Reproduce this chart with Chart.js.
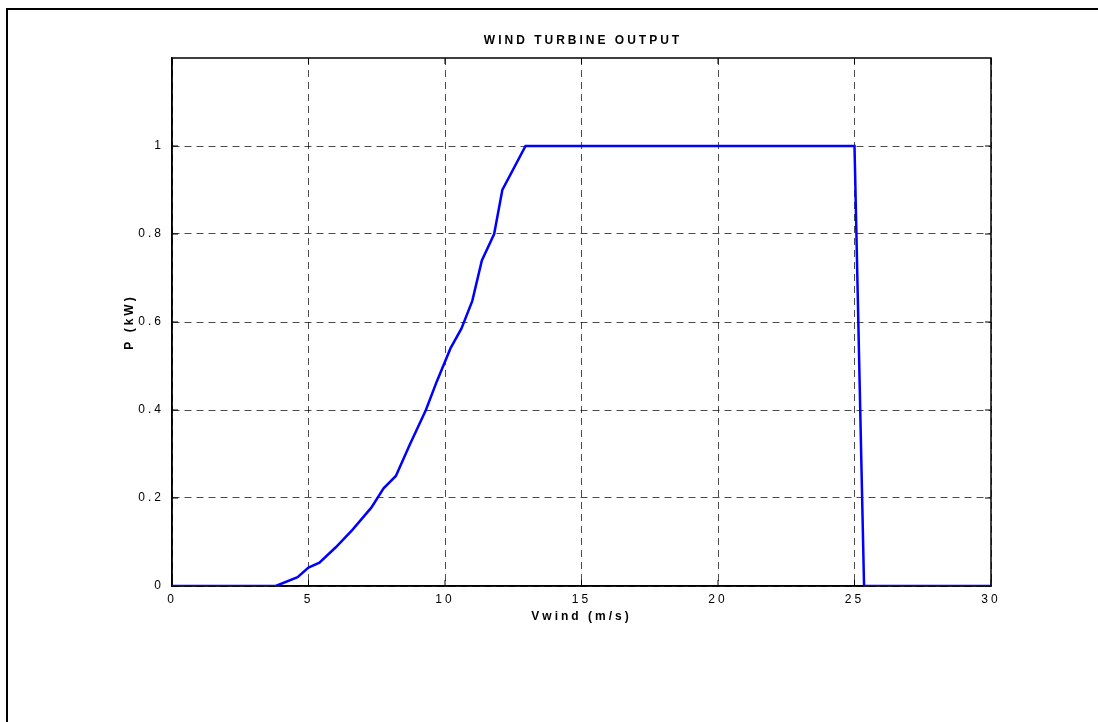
<!DOCTYPE html>
<html><head><meta charset="utf-8">
<script src="https://cdn.jsdelivr.net/npm/chart.js@4.4.1/dist/chart.umd.min.js"></script>
<style>
html,body{margin:0;padding:0;background:#fff;}
#wrap{position:relative;width:1098px;height:722px;overflow:hidden;}
#frame{position:absolute;left:6px;top:8px;right:-10px;bottom:-10px;border-top:2px solid #000;border-left:2px solid #000;pointer-events:none;}
canvas{position:absolute;left:0;top:0;}
</style></head>
<body><div id="wrap"><canvas id="c" width="1098" height="722"></canvas><div id="frame"></div></div>
<script>
// ---- data ----
const windSpeed = [0, 3.8, 4.6, 5.0, 5.4, 6.0, 6.6, 7.3, 7.75, 8.2, 8.7, 9.3, 9.7, 10.2, 10.6, 11.0, 11.35, 11.8, 12.1, 12.95, 25.0, 25.35, 30];
const powerKW   = [0, 0,   0.02, 0.042, 0.053, 0.088, 0.127, 0.178, 0.222, 0.25, 0.32, 0.40, 0.465, 0.54, 0.585, 0.648, 0.74, 0.80, 0.90, 1.0, 1.0, 0, 0];
const xTicks = [0, 5, 10, 15, 20, 25, 30];
const xTickLabels = ['0', '5', '10', '15', '20', '25', '30'];
const yTicks = [0, 0.2, 0.4, 0.6, 0.8, 1];
const yTickLabels = ['0', '0.2', '0.4', '0.6', '0.8', '1'];
const chartTitle = 'WIND TURBINE OUTPUT';
const xTitle = 'Vwind (m/s)';
const yTitle = 'P (kW)';

const FAM = '"Liberation Sans", Arial, Helvetica, sans-serif';
const SPACING = '3px';

const points = windSpeed.map((x, i) => ({x, y: powerKW[i]}));

const matlabPlugin = {
  id: 'matlabFrame',
  beforeLayout(chart) { chart.ctx.letterSpacing = SPACING; },
  beforeDraw(chart) { chart.ctx.letterSpacing = SPACING; },
  beforeDatasetsDraw(chart) {
    const {ctx, chartArea: a, scales: {x, y}} = chart;
    ctx.save();
    ctx.strokeStyle = '#000';
    ctx.lineWidth = 1.5;
    ctx.setLineDash([]);
    ctx.strokeRect(a.left, a.top, a.right - a.left, a.bottom - a.top);
    const L = 6;
    ctx.beginPath();
    xTicks.forEach(v => {
      const px = x.getPixelForValue(v);
      ctx.moveTo(px, a.bottom); ctx.lineTo(px, a.bottom - L);
      ctx.moveTo(px, a.top); ctx.lineTo(px, a.top + L);
    });
    yTicks.forEach(v => {
      const py = y.getPixelForValue(v);
      ctx.moveTo(a.left, py); ctx.lineTo(a.left + L, py);
      ctx.moveTo(a.right, py); ctx.lineTo(a.right - L, py);
    });
    ctx.lineWidth = 1;
    ctx.stroke();
    ctx.restore();
  },
  afterDraw(chart) {
    const {ctx, chartArea: a} = chart;
    ctx.save();
    ctx.letterSpacing = SPACING;
    ctx.font = 'bold 12px ' + FAM;
    ctx.fillStyle = '#000';
    ctx.textAlign = 'center';
    ctx.textBaseline = 'middle';
    ctx.fillText(chartTitle, (a.left + a.right) / 2 + 1.5, 41);
    ctx.restore();
  }
};

new Chart(document.getElementById('c'), {
  type: 'line',
  data: {
    datasets: [{
      data: points,
      borderColor: '#0000ff',
      borderWidth: 2.5,
      pointRadius: 0,
      fill: false,
      tension: 0
    }]
  },
  options: {
    responsive: false,
    animation: false,
    devicePixelRatio: 1,
    layout: {padding: {left: 122, top: 58, right: 107, bottom: 98}},
    plugins: {legend: {display: false}, tooltip: {enabled: false}, title: {display: false}},
    scales: {
      x: {
        type: 'linear', min: 0, max: 30,
        afterBuildTicks: s => { s.ticks = xTicks.map(v => ({value: v})); },
        afterFit: s => { s.height = 38; },
        grid: {color: 'rgba(0,0,0,0.7)', lineWidth: 1, drawTicks: false},
        border: {display: true, color: '#000', width: 1.5, dash: [7, 5]},
        ticks: {color: '#000', font: {size: 12, family: FAM}, padding: 6, maxRotation: 0, autoSkip: false,
                callback: (v, i) => xTickLabels[i]},
        title: {display: true, text: xTitle, color: '#000', font: {size: 12, weight: 'bold', family: FAM}, padding: {top: 0, bottom: 0}}
      },
      y: {
        type: 'linear', min: 0, max: 1.2,
        afterBuildTicks: s => { s.ticks = yTicks.map(v => ({value: v})); },
        afterFit: s => { s.width = 50; },
        grid: {color: 'rgba(0,0,0,0.7)', lineWidth: 1, drawTicks: false},
        border: {display: true, color: '#000', width: 1.5, dash: [7, 5]},
        ticks: {color: '#000', font: {size: 12, family: FAM}, padding: 8, autoSkip: false,
                callback: (v, i) => yTickLabels[i]},
        title: {display: true, text: yTitle, color: '#000', font: {size: 12, weight: 'bold', family: FAM}, padding: {top: 0, bottom: 0}}
      }
    }
  },
  plugins: [matlabPlugin]
});
</script>
</body></html>
